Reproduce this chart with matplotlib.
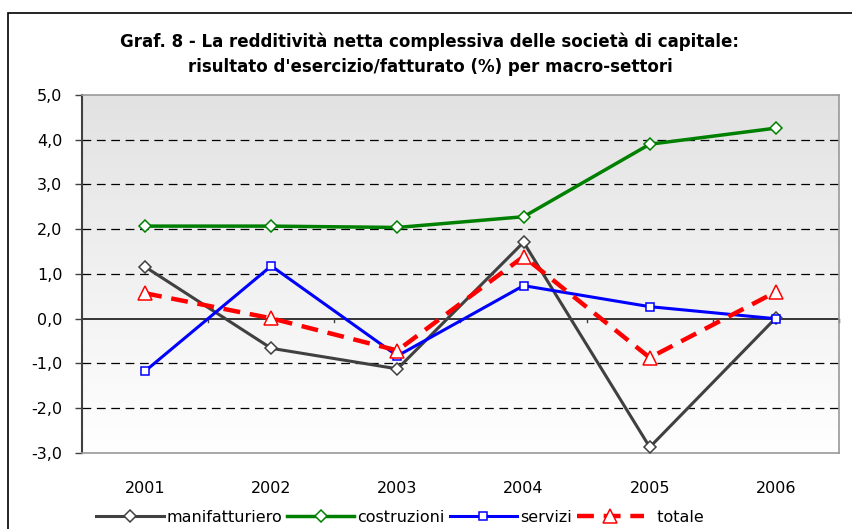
import numpy as np
import matplotlib
matplotlib.use('Agg')
import matplotlib.pyplot as plt
from matplotlib.patches import Rectangle
from matplotlib.ticker import FuncFormatter

anni = ['2001', '2002', '2003', '2004', '2005', '2006']
manifatturiero = [1.16, -0.66, -1.12, 1.71, -2.87, 0.02]
costruzioni = [2.07, 2.07, 2.04, 2.28, 3.90, 4.26]
servizi = [-1.17, 1.18, -0.83, 0.74, 0.27, 0.00]
totale = [0.57, 0.01, -0.71, 1.39, -0.87, 0.60]

plt.rcParams['font.family'] = ['DejaVu Sans']

W, H = 853, 529
fig = plt.figure(figsize=(W/100, H/100), dpi=100)
ax = fig.add_axes([82/W, 1-453/H, (839-82)/W, (453-95)/H])

# sfondo sfumato grigio -> bianco
grad = np.linspace(0, 1, 256).reshape(-1, 1)
ax.imshow(grad, cmap=matplotlib.colors.LinearSegmentedColormap.from_list('g', ['#e2e2e2', '#ffffff']),
          extent=[-0.5, 5.5, -3, 5], aspect='auto', origin='upper', zorder=0)

for y in [-2, -1, 1, 2, 3, 4]:
    ax.axhline(y, color='black', lw=0.9, ls=(0, (7, 4.5)), zorder=1)
ax.axhline(0, color='black', lw=1.1, zorder=1)

x = np.arange(len(anni))
ax.plot(x, manifatturiero, color='#404040', lw=2.2, marker='D', ms=6.3, mfc='white', mec='#404040', mew=1.1, zorder=3, label='manifatturiero')
ax.plot(x, costruzioni, color='#008000', lw=2.5, marker='D', ms=6.3, mfc='white', mec='#008000', mew=1.1, zorder=3, label='costruzioni')
ax.plot(x, servizi, color='#0000ff', lw=2.2, marker='s', ms=5.5, mfc='white', mec='#0000ff', mew=1.1, zorder=4, label='servizi')
ax.plot(x, totale, color='#ff0000', lw=3.2, ls=(0, (3.8, 2.2)), marker='^', ms=10, mfc='white', mec='#ff0000', mew=1.1, zorder=5, label='  totale')

ax.set_xlim(-0.5, 5.5)
ax.set_ylim(-3, 5)
ax.set_yticks(range(-3, 6))
ax.yaxis.set_major_formatter(FuncFormatter(lambda v, p: f'{v:.1f}'.replace('.', ',')))
ax.tick_params(axis='y', direction='out', length=5, width=1, color='#404040', labelsize=11.5, pad=9)

# categorie: etichette sotto, tacche sullo zero
ax.set_xticks(x)
ax.set_xticklabels(anni)
ax.tick_params(axis='x', length=0, labelsize=11.5, pad=20)
for b in np.arange(0.5, 5.6, 1):
    ax.plot([b, b], [0, -0.08], color='#404040', lw=1, zorder=2, clip_on=False)

for s in ['top', 'right', 'bottom']:
    ax.spines[s].set_color('#999999')
    ax.spines[s].set_linewidth(1.2)
ax.spines['left'].set_color('#404040')
ax.spines['left'].set_linewidth(1.5)

fig.text(430/W, 1-42/H, 'Graf. 8 - La redditività netta complessiva delle società di capitale:',
         ha='center', va='center', fontsize=12, fontweight='bold')
fig.text(430/W, 1-67/H, "risultato d'esercizio/fatturato (%) per macro-settori",
         ha='center', va='center', fontsize=12, fontweight='bold')

fig.legend(loc='center', bbox_to_anchor=(400/W, 1-517/H), ncol=4, frameon=False,
           fontsize=11.5, handlelength=4.2, handletextpad=0.2, columnspacing=0.3)

fig.patches.append(Rectangle((8/W, -0.1), 1.2, 1.1 - 13/H, transform=fig.transFigure,
                             fill=False, ec='black', lw=1.2))

fig.savefig('out.png', dpi=100)
